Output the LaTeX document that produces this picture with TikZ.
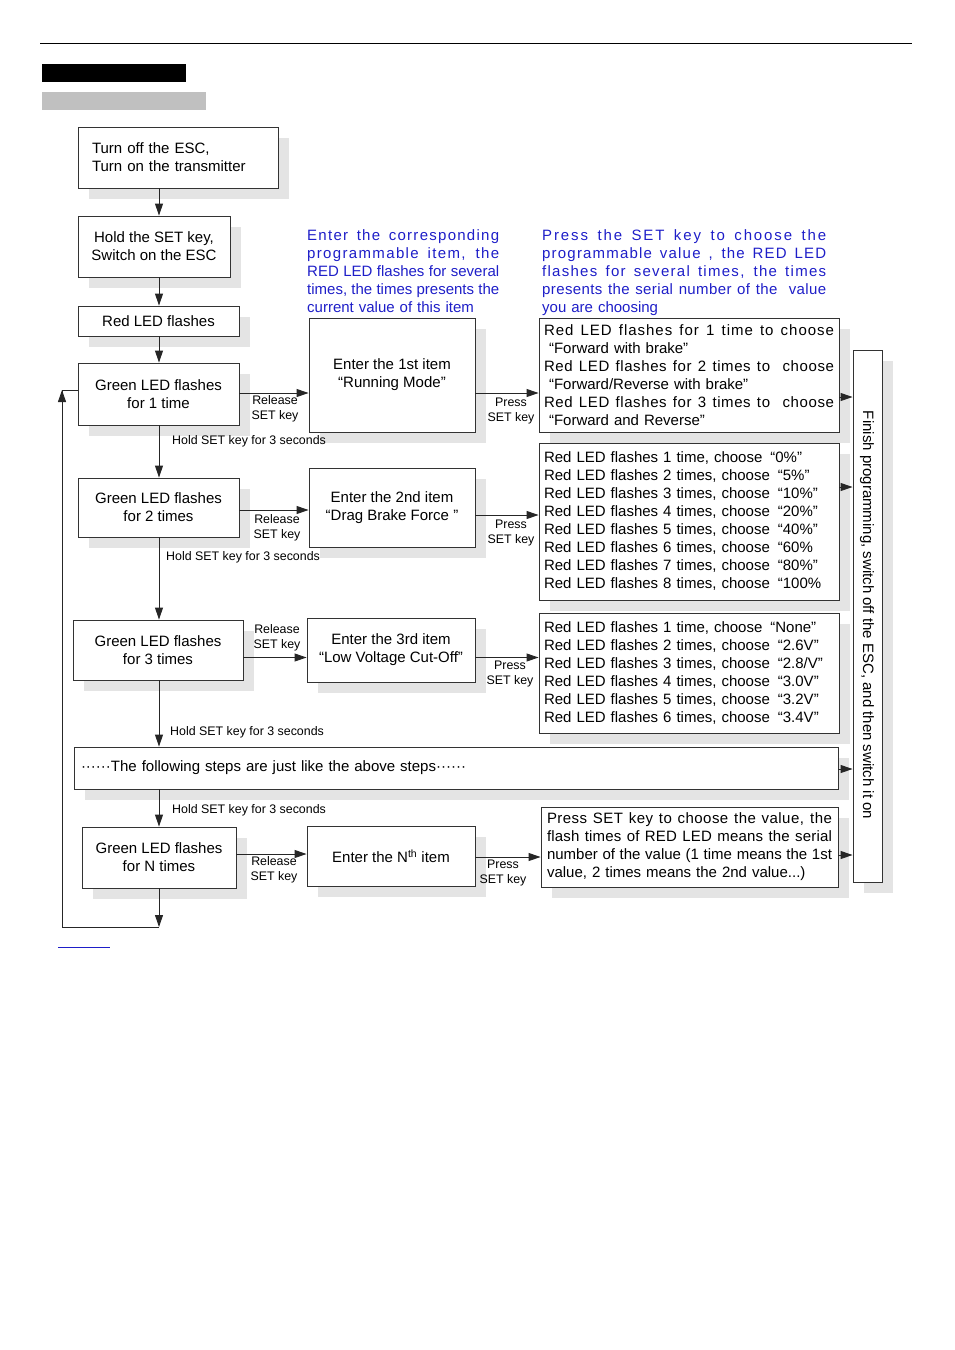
\documentclass[tikz,border=0pt]{standalone}
\usepackage{fontspec}
\setmainfont{Liberation Sans}
\usetikzlibrary{shadows,arrows.meta}
\definecolor{bluetxt}{RGB}{30,30,200}
\definecolor{shadowgray}{RGB}{228,228,228}
\definecolor{headgray}{RGB}{192,192,192}
\newcommand\mainsz{\fontsize{15}{18}\selectfont}
\newcommand\smallsz{\fontsize{12.4}{15}\selectfont}
% justified line: width, letter spacing, text
\newcommand\jline[3]{\leavevmode\hbox to #1{\addfontfeature{LetterSpace=#2}\spaceskip=0.278em plus 1fil\relax #3}}
\begin{document}
\begin{tikzpicture}[x=1pt,y=-1pt,
  box/.style={draw=black!80, line width=0.9pt, fill=white, inner sep=0pt, align=center, font=\mainsz,
    drop shadow={shadow xshift=11pt, shadow yshift=-11pt, fill=shadowgray, opacity=1}},
  vbox/.style={box, align=left},
  lbl/.style={inner sep=0pt, align=center, font=\smallsz},
  hold/.style={inner sep=0pt, anchor=west, font=\smallsz},
  bluetext/.style={inner sep=0pt, anchor=north west, align=left, font=\mainsz, text=bluetxt},
  arr/.style={-{Triangle[length=12pt,width=8pt]}, line width=0.9pt, draw=black!85},
  conn/.style={line width=0.9pt, draw=black!85}]
\useasboundingbox (0,0) rectangle (955,1350);

% page header
\draw[line width=1pt] (40,43) -- (912,43);
\fill[black] (42,64) rectangle (186,82);
\fill[headgray] (42,92) rectangle (206,110);
\draw[bluetxt, line width=1pt] (58,947) -- (110,947);

% left column
\node[box, align=left, text width=172pt, minimum width=200pt, minimum height=61pt] (b1) at (178,157.5)
  {Turn off the ESC,\\Turn on the transmitter};
\node[box, minimum width=152pt, minimum height=61pt] (b2) at (154,246.5)
  {Hold the SET key,\\Switch on the ESC};
\node[box, minimum width=161pt, minimum height=30pt] (b3) at (158.5,321) {Red LED flashes};
\node[box, minimum width=161pt, minimum height=62pt] (g1) at (158.5,394) {Green LED flashes\\for 1 time};
\node[box, minimum width=161pt, minimum height=59pt] (g2) at (158.5,507.5) {Green LED flashes\\for 2 times};
\node[box, minimum width=170pt, minimum height=60pt] (g3) at (158,650) {Green LED flashes\\for 3 times};
\node[box, minimum width=154pt, minimum height=61pt] (gN) at (159,857.5) {Green LED flashes\\for N times};

% item column
\node[box, minimum width=166pt, minimum height=114pt] (i1) at (392,375) {Enter the 1st item\\“Running Mode”};
\node[box, minimum width=166pt, minimum height=79pt] (i2) at (392,507.5) {Enter the 2nd item\\“Drag Brake Force ”};
\node[box, minimum width=168pt, minimum height=64pt] (i3) at (391,650) {Enter the 3rd item\\“Low Voltage Cut-Off”};
\node[box, minimum width=168pt, minimum height=60pt] (iN) at (391,856) {Enter the N\textsuperscript{th} item};

% value column
\node[vbox, text width=290pt, minimum width=300pt, minimum height=114pt] (v1) at (689,375) {%
\jline{290pt}{6.5}{Red LED flashes for 1 time to choose}\\
\hspace*{5pt}“Forward with brake”\\
\jline{290pt}{4}{Red LED flashes for 2 times to \ choose}\\
\hspace*{5pt}“Forward/Reverse with brake”\\
\jline{290pt}{4}{Red LED flashes for 3 times to \ choose}\\
\hspace*{5pt}“Forward and Reverse”};
\node[vbox, text width=290pt, minimum width=300pt, minimum height=157pt] (v2) at (689,521.5) {%
Red LED flashes 1 time, choose\hspace{8pt}“0\%”\\
Red LED flashes 2 times, choose\hspace{8pt}“5\%”\\
Red LED flashes 3 times, choose\hspace{8pt}“10\%”\\
Red LED flashes 4 times, choose\hspace{8pt}“20\%”\\
Red LED flashes 5 times, choose\hspace{8pt}“40\%”\\
Red LED flashes 6 times, choose\hspace{8pt}“60\%\\
Red LED flashes 7 times, choose\hspace{8pt}“80\%”\\
Red LED flashes 8 times, choose\hspace{8pt}“100\%};
\node[vbox, text width=290pt, minimum width=300pt, minimum height=120pt] (v3) at (689,673) {%
Red LED flashes 1 time, choose\hspace{8pt}“None”\\
Red LED flashes 2 times, choose\hspace{8pt}“2.6V”\\
Red LED flashes 3 times, choose\hspace{8pt}“2.8/V”\\
Red LED flashes 4 times, choose\hspace{8pt}“3.0V”\\
Red LED flashes 5 times, choose\hspace{8pt}“3.2V”\\
Red LED flashes 6 times, choose\hspace{8pt}“3.4V”};
\node[vbox, text width=285pt, minimum width=297pt, minimum height=80pt] (vN) at (689.5,847) {%
\jline{285pt}{3}{Press SET key to choose the value, the}\\
\jline{285pt}{1.2}{flash times of RED LED means the serial}\\
\jline{285pt}{0}{number of the value (1 time means the 1st}\\
value, 2 times means the 2nd value...)};

% wide box and finish box
\node[vbox, text width=750pt, minimum width=764pt, minimum height=42pt] (fol) at (456,768)
  {······The following steps are just like the above steps······};
\node[box, minimum width=29pt, minimum height=532pt] (fin) at (867.5,616) {};
\node[inner sep=0pt, rotate=-90, font=\mainsz] (fintxt) at (867,615)
  {Finish programming, switch off the ESC, and then switch it on};

% blue explanations
\node[bluetext, text width=192pt] (bt1) at (307,229) {%
\jline{192pt}{8.5}{Enter the corresponding}\\
\jline{192pt}{9}{programmable item, the}\\
\jline{192pt}{0}{RED LED flashes for several}\\
\jline{192pt}{0}{times, the times presents the}\\
current value of this item};
\node[bluetext, text width=284pt] (bt2) at (542,229) {%
\jline{284pt}{12.5}{Press the SET key to choose the}\\
\jline{284pt}{8}{programmable value , the RED LED}\\
\jline{284pt}{8.5}{flashes for several times, the times}\\
\jline{284pt}{2.5}{presents the serial number of the \ value}\\
you are choosing};

% helper coordinates
\coordinate (cx) at (159,0);
\coordinate (y1) at (0,393);
\coordinate (y2) at (0,510);
\coordinate (y2p) at (0,515);
\coordinate (y3) at (0,657.5);
\coordinate (yN) at (0,854);
\coordinate (yNp) at (0,857);
\coordinate (f1) at (0,397);
\coordinate (f2) at (0,487);
\coordinate (f3) at (0,769);
\coordinate (f4) at (0,855);
\coordinate (lb) at (159,927);
\coordinate (ll) at (62,927);
\coordinate (lt) at (62,390);

% vertical flow
\draw[arr] (b1.south -| cx) -- (b2.north -| cx);
\draw[arr] (b2.south -| cx) -- (b3.north -| cx);
\draw[arr] (b3.south -| cx) -- (g1.north -| cx);
\draw[arr] (g1.south -| cx) -- (g2.north -| cx);
\draw[arr] (g2.south -| cx) -- (g3.north -| cx);
\draw[arr] (g3.south -| cx) -- (fol.north -| cx);
\draw[arr] (fol.south -| cx) -- (gN.north -| cx);
\draw[arr] (gN.south -| cx) -- (lb);
\draw[conn] (lb) -- (ll) -- (lt) -- (g1.west |- lt);
\draw[arr] (ll) -- (lt);

% horizontal flow
\draw[arr] (g1.east |- y1) -- (i1.west |- y1);
\draw[arr] (i1.east |- y1) -- (v1.west |- y1);
\draw[arr] (g2.east |- y2) -- (i2.west |- y2);
\draw[arr] (i2.east |- y2p) -- (v2.west |- y2p);
\draw[arr] (g3.east |- y3) -- (i3.west |- y3);
\draw[arr] (i3.east |- y3) -- (v3.west |- y3);
\draw[arr] (gN.east |- yN) -- (iN.west |- yN);
\draw[arr] (iN.east |- yNp) -- (vN.west |- yNp);
\draw[arr] (v1.east |- f1) -- (fin.west |- f1);
\draw[arr] (v2.east |- f2) -- (fin.west |- f2);
\draw[arr] (fol.east |- f3) -- (fin.west |- f3);
\draw[arr] (vN.east |- f4) -- (fin.west |- f4);

% labels
\node[lbl] (rl1) at (275,408.5) {Release\\SET key};
\node[lbl] (pl1) at (511,411) {Press\\SET key};
\node[lbl] (rl2) at (277,527.5) {Release\\SET key};
\node[lbl] (pl2) at (511,533.5) {Press\\SET key};
\node[lbl] (rl3) at (277,637.5) {Release\\SET key};
\node[lbl] (pl3) at (510,674.5) {Press\\SET key};
\node[lbl] (rlN) at (274,870) {Release\\SET key};
\node[lbl] (plN) at (503,873) {Press\\SET key};
\node[hold] (h1) at (172,441) {Hold SET key for 3 seconds};
\node[hold] (h2) at (166,557) {Hold SET key for 3 seconds};
\node[hold] (h3) at (170,732) {Hold SET key for 3 seconds};
\node[hold] (h4) at (172,810) {Hold SET key for 3 seconds};
\end{tikzpicture}
\end{document}
